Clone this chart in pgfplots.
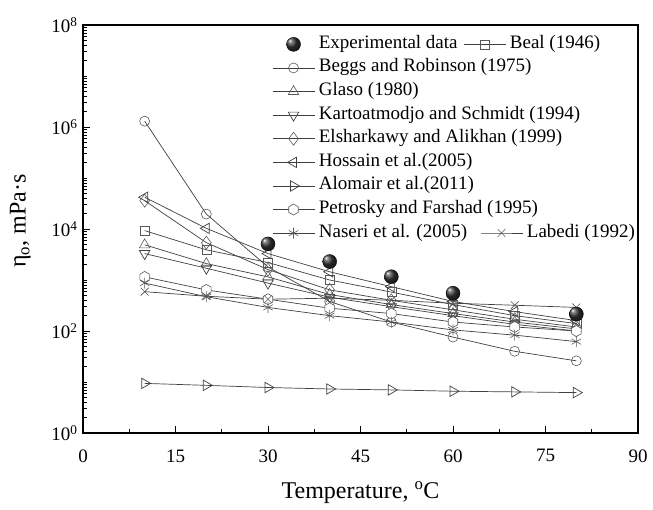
\documentclass[border=0pt]{standalone}
\usepackage{fontspec}
\setmainfont{Liberation Serif}
\usepackage{pgfplots}
\pgfplotsset{compat=1.18}
\usetikzlibrary{plotmarks}

% open six-sided marker
\pgfdeclareplotmark{hexagon}{%
  \pgfpathmoveto{\pgfpointpolar{90}{\pgfplotmarksize}}%
  \pgfpathlineto{\pgfpointpolar{150}{\pgfplotmarksize}}%
  \pgfpathlineto{\pgfpointpolar{210}{\pgfplotmarksize}}%
  \pgfpathlineto{\pgfpointpolar{270}{\pgfplotmarksize}}%
  \pgfpathlineto{\pgfpointpolar{330}{\pgfplotmarksize}}%
  \pgfpathlineto{\pgfpointpolar{30}{\pgfplotmarksize}}%
  \pgfpathclose
  \pgfusepathqfillstroke}

% shaded black sphere for the measured points
\pgfdeclareradialshading{sphereshade}{\pgfpoint{-14bp}{14bp}}{%
  color(0bp)=(white); color(6bp)=(black!45); color(18bp)=(black!85); color(50bp)=(black)}
\pgfdeclareplotmark{sphere}{%
  \pgfpathcircle{\pgfpointorigin}{\pgfplotmarksize}%
  \pgfshadepath{sphereshade}{0}%
  \pgfsetstrokecolor{black}%
  \pgfusepathqstroke}

\pgfplotsset{
  viscframe/.style={scale only axis, width=555pt, height=408pt,
    xmin=0, xmax=90, ymin=1, ymax=1e8},
  legend image code/.code={\draw[mark repeat=2,mark phase=2,#1]
    plot coordinates {(0pt,0pt) (21pt,0pt) (42pt,0pt)};},
  visckeys/.style={legend cell align=left,
    legend style={draw=none, fill=none, inner sep=0pt, row sep=0pt,
      font=\fontsize{19}{22}\selectfont,
      nodes={inner xsep=4pt, inner ysep=1.8pt, text height=14pt, text depth=6pt}}},
}
\tikzset{
  visccorr/.style={color=black!75, line width=0.7pt,
    mark options={solid, fill=white, draw=black!65, line width=0.6pt}},
}

\begin{document}
\begin{tikzpicture}
\begin{axis}[ymode=log, viscframe, visckeys, name=ax,
  xtick={0,15,...,90}, minor xtick={7.5,22.5,...,82.5},
  ytick={1,1e2,1e4,1e6,1e8},
  yticklabels={10\textsuperscript{0},10\textsuperscript{2},10\textsuperscript{4},10\textsuperscript{6},10\textsuperscript{8}},
  minor ytick={2,3,4,5,6,7,8,9,10,20,30,40,50,60,70,80,90,
    200,300,400,500,600,700,800,900,1000,2000,3000,4000,5000,6000,7000,8000,9000,
    2e4,3e4,4e4,5e4,6e4,7e4,8e4,9e4,1e5,2e5,3e5,4e5,5e5,6e5,7e5,8e5,9e5,
    2e6,3e6,4e6,5e6,6e6,7e6,8e6,9e6,1e7,2e7,3e7,4e7,5e7,6e7,7e7,8e7,9e7},
  /pgf/number format/assume math mode=true,
  tick align=inside, xtick pos=bottom, ytick pos=left,
  major tick length=7pt, minor tick length=4pt,
  every tick/.style={black, line width=0.8pt},
  axis line style={line width=1.1pt},
  tick label style={font=\fontsize{19}{22}\selectfont},
  xticklabel style={yshift=-13pt},
  yticklabel style={xshift=-2pt},
  label style={font=\fontsize{24}{28}\selectfont},
  xlabel={Temperature, \textsuperscript{o}C},
  ylabel={η\textsubscript{o}, mPa·s},
  xlabel style={at={(axis description cs:0.5,0)}, anchor=center, yshift=-60pt},
  ylabel style={at={(axis description cs:-0.113,0.52)}, anchor=center},
  legend style={at={(0.3405,0.982)}, anchor=north west},
]
\addlegendimage{only marks, mark=sphere, mark size=7pt}
\addlegendentry{Experimental data}

% Beal (1946)
\addplot[visccorr, mark=square, mark size=4.5pt, forget plot] coordinates {
  (10,9300) (20,3900) (30,2200) (40,1000) (50,580) (60,330) (70,200) (80,140)};
% Beggs and Robinson (1975)
\addplot[visccorr, mark=o, mark size=5pt] coordinates {
  (10,1.3e6) (20,19600) (30,1800) (40,380) (50,150) (60,76) (70,40) (80,26)};
\addlegendentry{Beggs and Robinson (1975)}
% Glaso (1980)
\addplot[visccorr, mark=triangle, mark size=6pt] coordinates {
  (10,4900) (20,2100) (30,1150) (40,520) (50,330) (60,220) (70,150) (80,110)};
\addlegendentry{Glaso (1980)}
% Kartoatmodjo and Schmidt (1994)
\addplot[visccorr, mark=triangle, mark size=6pt, mark options={rotate=180}] coordinates {
  (10,3300) (20,1700) (30,870) (40,460) (50,300) (60,200) (70,135) (80,100)};
\addlegendentry{Kartoatmodjo and Schmidt (1994)}
% Elsharkawy and Alikhan (1999)
\addplot[visccorr, mark=diamond, mark size=6.5pt] coordinates {
  (10,36000) (20,5400) (30,1600) (40,640) (50,400) (60,260) (70,170) (80,120)};
\addlegendentry{Elsharkawy and Alikhan (1999)}
% Hossain et al. (2005)
\addplot[visccorr, mark=triangle, mark size=6pt, mark options={rotate=90}] coordinates {
  (10,42000) (20,10300) (30,3300) (40,1450) (50,740) (60,380) (70,240) (80,160)};
\addlegendentry{Hossain et al.(2005)}
% Alomair et al. (2011)
\addplot[visccorr, mark=triangle, mark size=6pt, mark options={rotate=-90}] coordinates {
  (10,9.4) (20,8.6) (30,7.8) (40,7.3) (50,7.0) (60,6.6) (70,6.4) (80,6.2)};
\addlegendentry{Alomair et al.(2011)}
% Petrosky and Farshad (1995)
\addplot[visccorr, mark=hexagon, mark size=5.5pt] coordinates {
  (10,1150) (20,640) (30,420) (40,280) (50,220) (60,150) (70,120) (80,100)};
\addlegendentry{Petrosky and Farshad (1995)}
% Naseri et al. (2005)
\addplot[visccorr, mark=asterisk, mark size=5.5pt] coordinates {
  (10,870) (20,470) (30,290) (40,200) (50,150) (60,105) (70,83) (80,62)};
\addlegendentry{Naseri et al. (2005)}
% Labedi (1992)
\addplot[visccorr, mark=x, mark size=5.5pt, forget plot] coordinates {
  (10,590) (20,480) (30,420) (40,440) (50,400) (60,350) (70,320) (80,290)};
% measured viscosity
\addplot[only marks, mark=sphere, mark size=7pt, forget plot] coordinates {
  (30,5100) (40,2300) (50,1160) (60,550) (80,215)};
\end{axis}

% keys that sit beside other entries
\begin{axis}[ymode=log, viscframe, visckeys, hide axis,
  legend style={at={(0.6847,0.982)}, anchor=north west}]
\addlegendimage{visccorr, mark=square, mark size=4.5pt}
\addlegendentry{Beal (1946)}
\end{axis}
\begin{axis}[ymode=log, viscframe, visckeys, hide axis,
  legend style={at={(0.7153,0.5196)}, anchor=north west}]
\addlegendimage{visccorr, mark=x, mark size=5.5pt}
\addlegendentry{Labedi (1992)}
\end{axis}

\pgfresetboundingbox
\path[use as bounding box] ([xshift=-83pt,yshift=-76pt]ax.south west)
  rectangle ([xshift=15pt,yshift=25pt]ax.north east);
\end{tikzpicture}
\end{document}
